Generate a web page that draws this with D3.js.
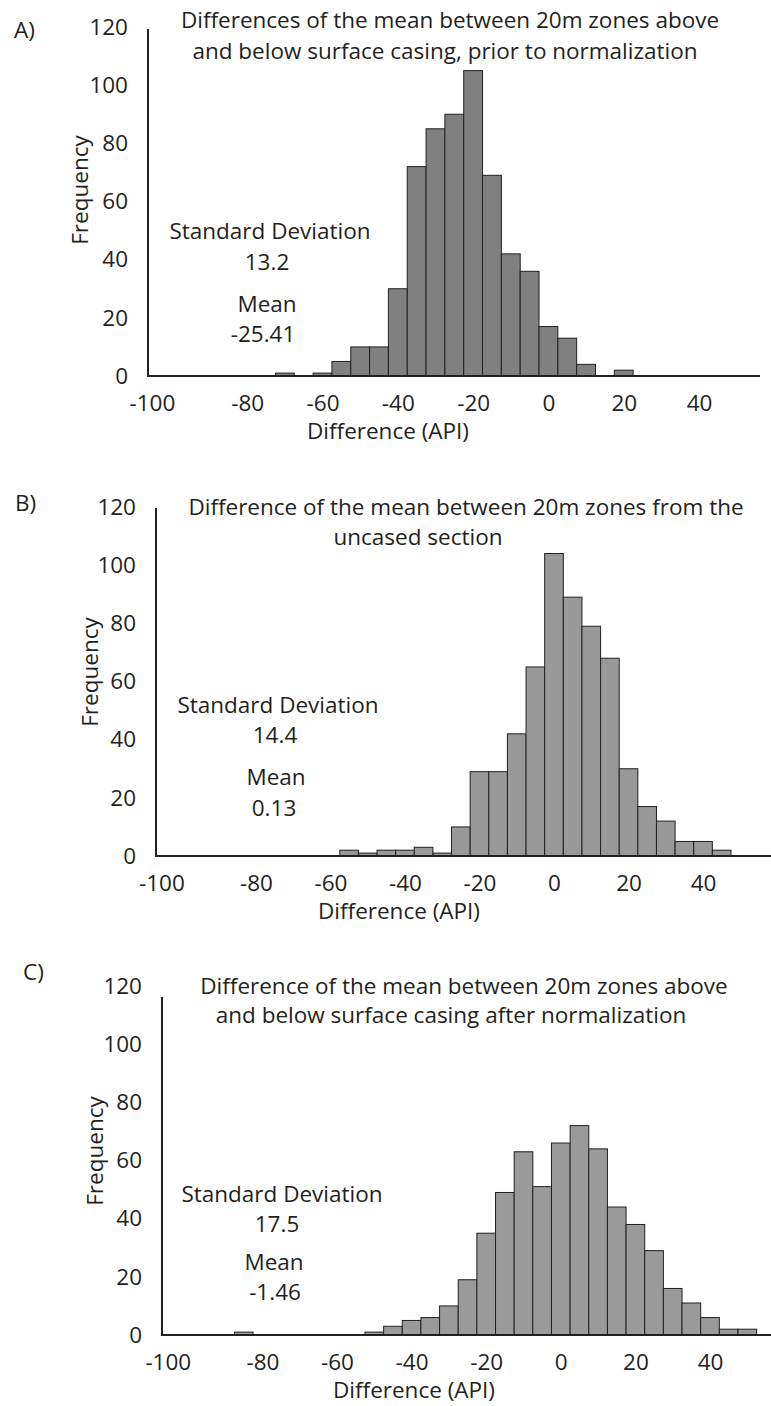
<!DOCTYPE html>
<html>
<head>
<meta charset="utf-8">
<script src="https://cdn.jsdelivr.net/npm/d3@7"></script>
<style>
  html, body { margin: 0; padding: 0; background: #ffffff; }
  svg { display: block; }
  text { font-family: "Open Sans", sans-serif; fill: #231f20; }
</style>
</head>
<body>
<svg id="chart" width="771" height="1406"></svg>
<script>
// ---------------- DATA ----------------
const binWidth = 5;
const xTickValues = [-100, -80, -60, -40, -20, 0, 20, 40];
const yTickValues = [0, 20, 40, 60, 80, 100, 120];

// Panel A: prior to normalization
const centersA = [-70, -65, -60, -55, -50, -45, -40, -35, -30, -25, -20, -15, -10, -5, 0, 5, 10, 15, 20];
const countsA  = [1, 0, 1, 5, 10, 10, 30, 72, 85, 90, 105, 69, 42, 36, 17, 13, 4, 0, 2];

// Panel B: uncased section
const centersB = [-55, -50, -45, -40, -35, -30, -25, -20, -15, -10, -5, 0, 5, 10, 15, 20, 25, 30, 35, 40, 45];
const countsB  = [2, 1, 2, 2, 3, 1, 10, 29, 29, 42, 65, 104, 89, 79, 68, 30, 17, 12, 5, 5, 2];

// Panel C: after normalization
const centersC = [-85, -50, -45, -40, -35, -30, -25, -20, -15, -10, -5, 0, 5, 10, 15, 20, 25, 30, 35, 40, 45, 50];
const countsC  = [1, 1, 3, 5, 6, 10, 19, 35, 49, 63, 51, 66, 72, 64, 44, 38, 29, 16, 11, 6, 2, 2];

const panelLabels = ["A)", "B)", "C)"];
const titlesA = ["Differences of the mean between 20m zones above", "and below surface casing, prior to normalization"];
const titlesB = ["Difference of the mean between 20m zones from the", "uncased section"];
const titlesC = ["Difference of the mean between 20m zones above", "and below surface casing after normalization"];
const statsA = ["Standard Deviation", "13.2", "Mean", "-25.41"];
const statsB = ["Standard Deviation", "14.4", "Mean", "0.13"];
const statsC = ["Standard Deviation", "17.5", "Mean", "-1.46"];
const xAxisTitle = "Difference (API)";
const yAxisTitle = "Frequency";

// ---------------- LAYOUT ----------------
const layouts = [
  { centers: centersA, counts: countsA, titles: titlesA, stats: statsA, label: panelLabels[0],
    fill: "#808080",
    xRange: [171.9, 736.7], y0: 376, y120: 27, axisX: 148, axisTopY: 29, axisRight: 760,
    labelPos: [14, 38],
    titlePos: [[450, 28], [445, 59]],
    statPos: [[270, 239], [267, 270], [267, 312], [263, 342]],
    freqPos: [80, 190], xTitleX: 388 },
  { centers: centersB, counts: countsB, titles: titlesB, stats: statsB, label: panelLabels[1],
    fill: "#999999",
    xRange: [181.4, 740.3], y0: 856, y120: 507, axisX: 156, axisTopY: 508, axisRight: 771,
    labelPos: [15, 511],
    titlePos: [[466, 515], [418, 545]],
    statPos: [[278, 713], [275, 743], [276, 785], [274, 816]],
    freqPos: [90, 672], xTitleX: 399 },
  { centers: centersC, counts: countsC, titles: titlesC, stats: statsC, label: panelLabels[2],
    fill: "#9a9a9a",
    xRange: [187.8, 747.3], y0: 1335, y120: 986, axisX: 162, axisTopY: 997, axisRight: 771,
    labelPos: [23, 980],
    titlePos: [[464, 994], [451, 1023]],
    statPos: [[282, 1202], [277, 1232], [274, 1270], [275, 1300]],
    freqPos: [95, 1151], xTitleX: 414 }
];

const FS = 22.5;
const INK = "#231f20";
const fmt = d => String(d); // plain hyphen-minus as in the original
const svg = d3.select("#chart");
svg.append("rect").attr("width", 771).attr("height", 1406).attr("fill", "#ffffff");

layouts.forEach(p => {
  const g = svg.append("g");
  const x = d3.scaleLinear().domain([-100, 50]).range(p.xRange);
  const y = d3.scaleLinear().domain([0, 120]).range([p.y0, p.y120]);

  const data = p.centers.map((c, i) => ({ c, v: p.counts[i] })).filter(d => d.v > 0);

  // bars
  g.append("g").selectAll("rect").data(data).join("rect")
    .attr("x", d => x(d.c - binWidth / 2))
    .attr("width", d => x(d.c + binWidth / 2) - x(d.c - binWidth / 2))
    .attr("y", d => y(d.v))
    .attr("height", d => y(0) - y(d.v))
    .attr("fill", p.fill)
    .attr("stroke", INK)
    .attr("stroke-width", 1);

  // axis lines
  g.append("line")
    .attr("x1", p.axisX).attr("x2", p.axisX)
    .attr("y1", p.axisTopY).attr("y2", y(0) + 1)
    .attr("stroke", INK).attr("stroke-width", 2);
  g.append("line")
    .attr("x1", p.axisX - 1).attr("x2", p.axisRight)
    .attr("y1", y(0)).attr("y2", y(0))
    .attr("stroke", INK).attr("stroke-width", 2);

  // x axis ticks
  const xa = g.append("g").attr("transform", `translate(0,${y(0)})`)
    .call(d3.axisBottom(x).tickValues(xTickValues).tickSize(0).tickPadding(19).tickFormat(fmt));
  xa.select(".domain").remove();
  xa.selectAll("text").style("font-family", "'Open Sans', sans-serif")
    .style("font-size", FS + "px").attr("fill", INK);
  xa.selectAll(".tick").filter(d => d === -100).select("text").attr("x", -20);

  // y axis ticks
  const ya = g.append("g").attr("transform", `translate(${p.axisX},0)`)
    .call(d3.axisLeft(y).tickValues(yTickValues).tickSize(0).tickPadding(20).tickFormat(fmt));
  ya.select(".domain").remove();
  ya.selectAll("text").style("font-family", "'Open Sans', sans-serif")
    .style("font-size", FS + "px").attr("fill", INK);

  // panel label
  g.append("text").attr("x", p.labelPos[0]).attr("y", p.labelPos[1])
    .style("font-size", FS + "px").text(p.label);

  // titles
  p.titles.forEach((t, i) => {
    g.append("text").attr("x", p.titlePos[i][0]).attr("y", p.titlePos[i][1])
      .attr("text-anchor", "middle").style("font-size", FS + "px").text(t);
  });

  // stats text
  p.stats.forEach((t, i) => {
    g.append("text").attr("x", p.statPos[i][0]).attr("y", p.statPos[i][1])
      .attr("text-anchor", "middle").style("font-size", FS + "px").text(t);
  });

  // axis titles
  g.append("text")
    .attr("transform", `translate(${p.freqPos[0]},${p.freqPos[1]}) rotate(-90)`)
    .attr("text-anchor", "middle").attr("dy", "0.35em")
    .style("font-size", FS + "px").text(yAxisTitle);
  g.append("text").attr("x", p.xTitleX).attr("y", y(0) + 63)
    .attr("text-anchor", "middle").style("font-size", FS + "px").text(xAxisTitle);
});
</script>
</body>
</html>
